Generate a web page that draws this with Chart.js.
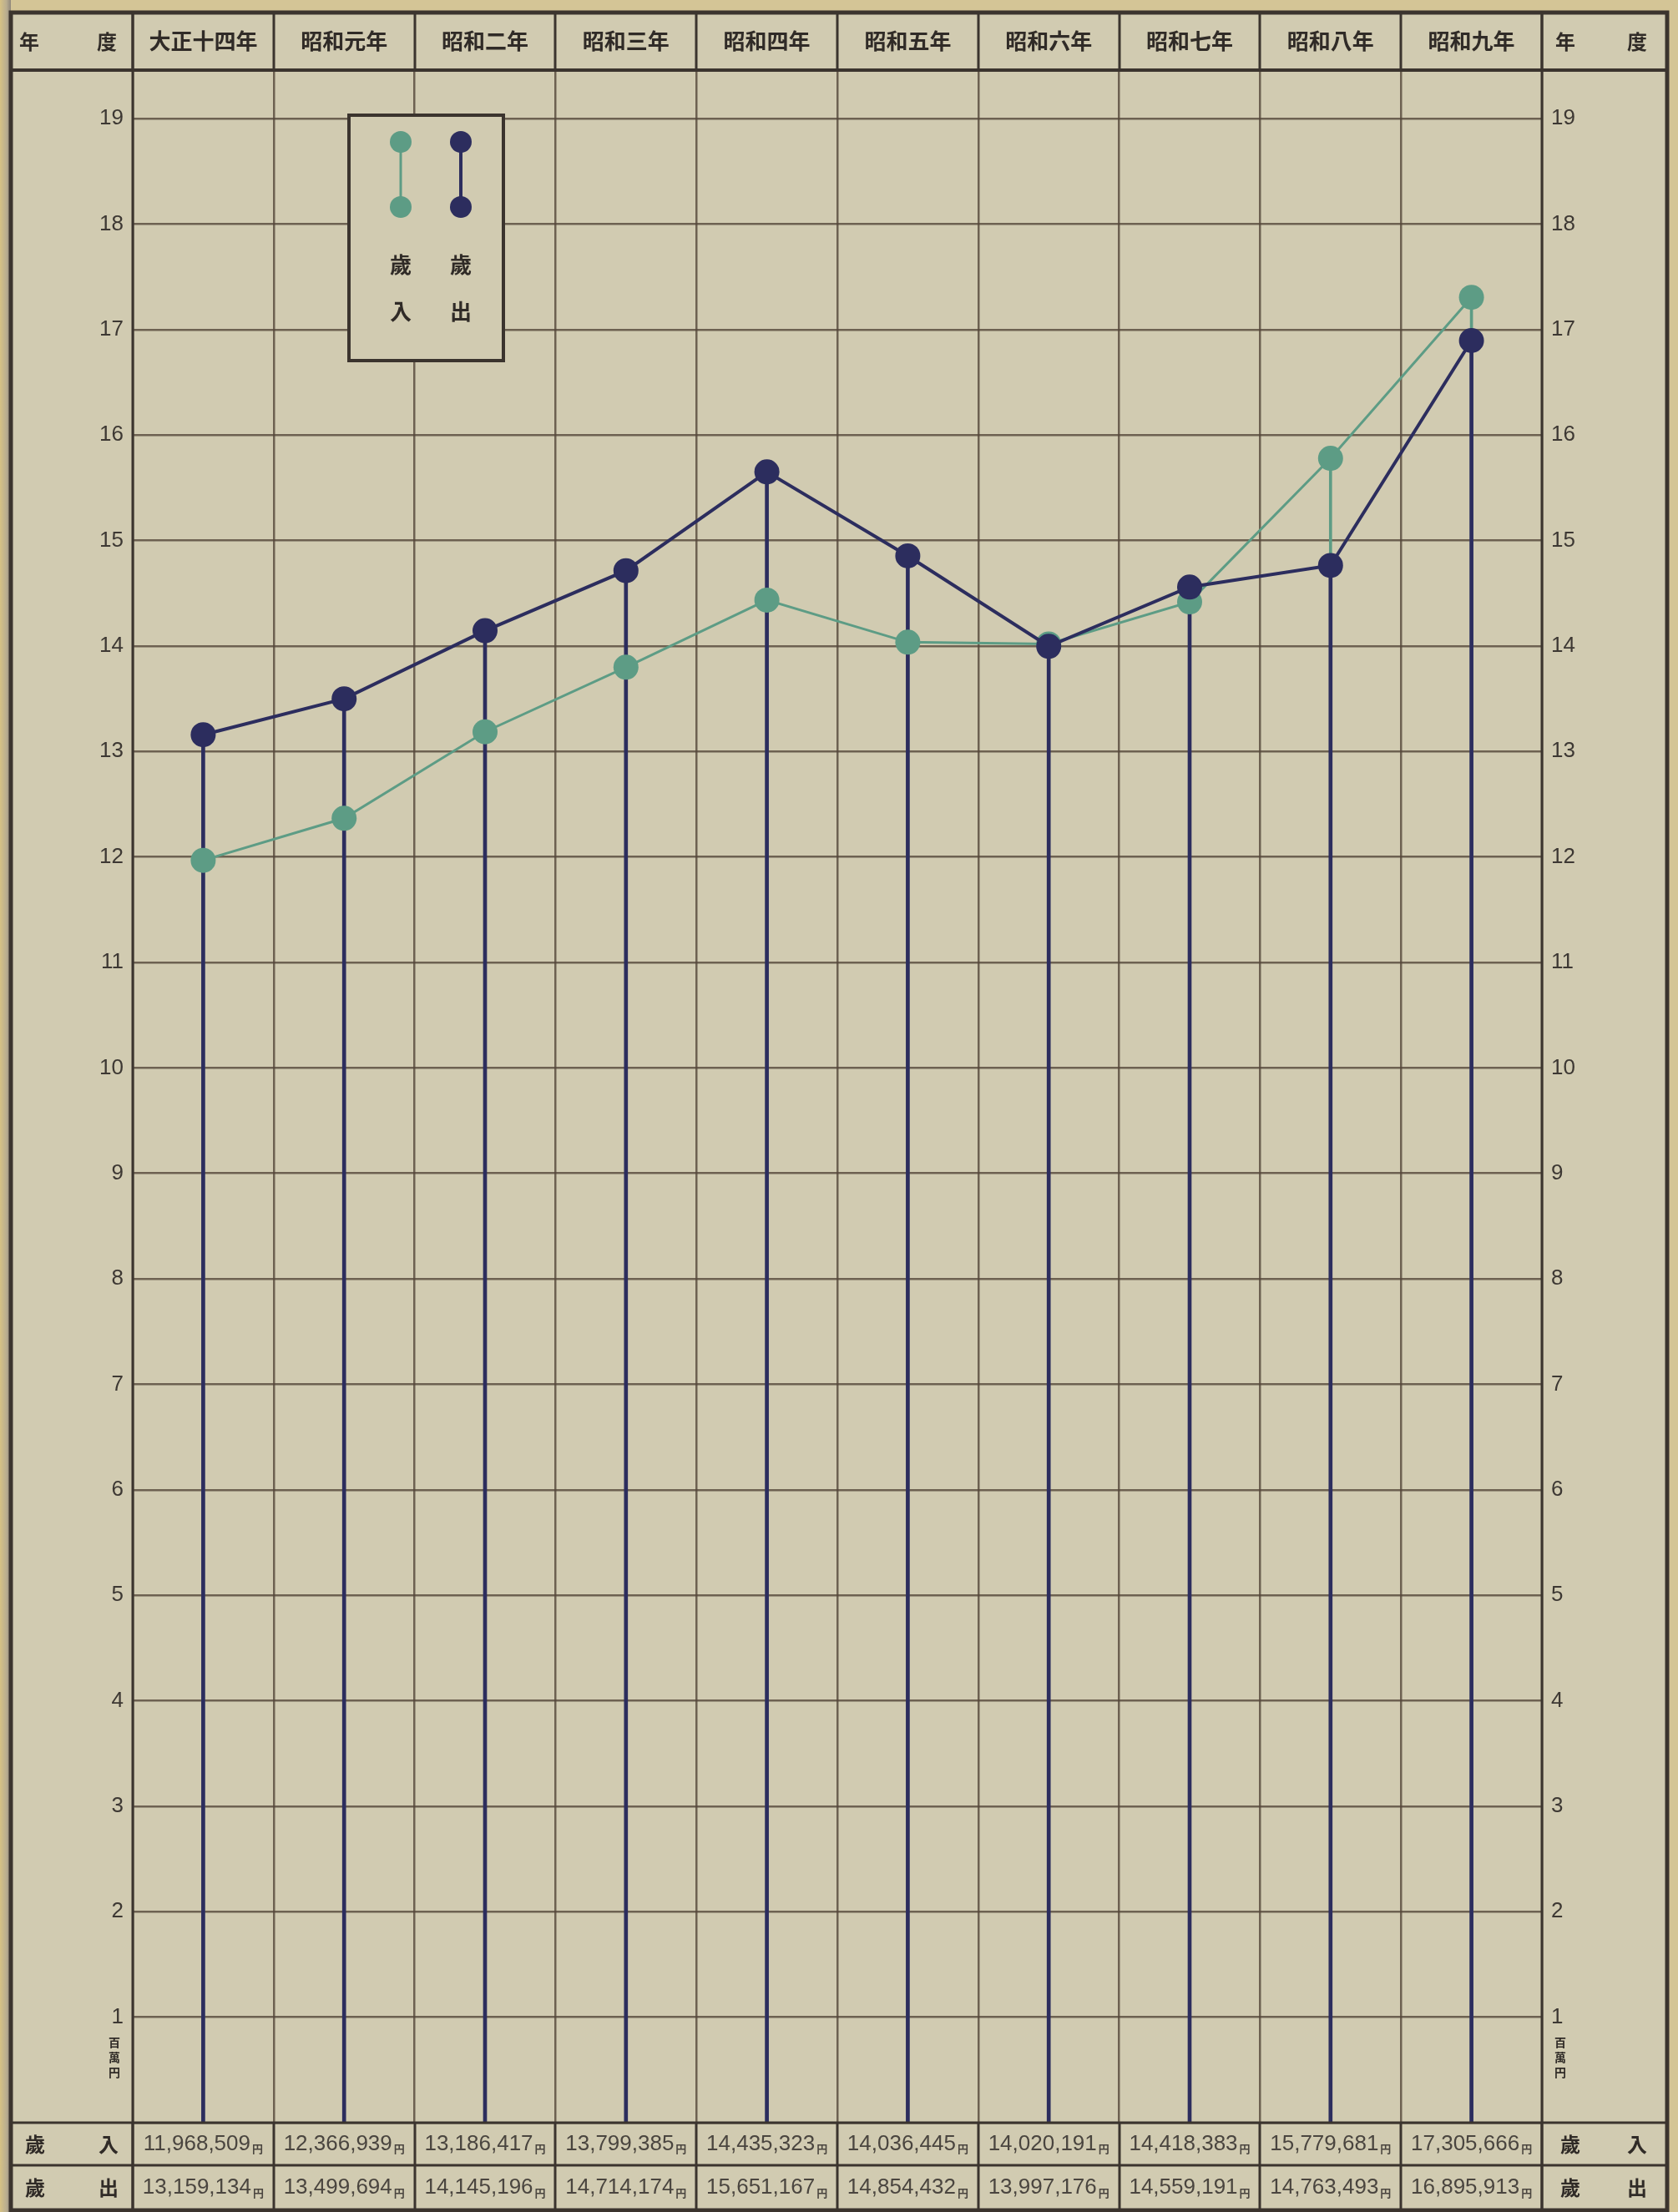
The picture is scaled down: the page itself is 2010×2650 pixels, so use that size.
<!DOCTYPE html>
<html lang="ja">
<head>
<meta charset="utf-8">
<title>歲入歲出</title>
<script src="https://cdn.jsdelivr.net/npm/chart.js@4.4.1/dist/chart.umd.min.js"></script>
<style>
  html, body { margin: 0; padding: 0; background: #d4c596; }
  #wrap { width: 2010px; height: 2650px; }
  canvas { display: block; }
</style>
</head>
<body>
<div id="wrap"><canvas id="chart" width="2010" height="2650"></canvas></div>
<script>
// --- data (yen) ---
const years = ['大正十四年', '昭和元年', '昭和二年', '昭和三年', '昭和四年',
               '昭和五年', '昭和六年', '昭和七年', '昭和八年', '昭和九年'];
const revenueYen = [11968509, 12366939, 13186417, 13799385, 14435323,
                    14036445, 14020191, 14418383, 15779681, 17305666];
const expenditureYen = [13159134, 13499694, 14145196, 14714174, 15651167,
                        14854432, 13997176, 14559191, 14763493, 16895913];
const yTickValues = [1, 2, 3, 4, 5, 6, 7, 8, 9, 10, 11, 12, 13, 14, 15, 16, 17, 18, 19];
const yUnit = ['百', '萬', '円'];
const yearHeader = ['年', '度'];
const rowLabels = [['歲', '入'], ['歲', '出']];
const seriesNames = ['歲入', '歲出'];

const revenue = revenueYen.map(v => v / 1e6);
const expenditure = expenditureYen.map(v => v / 1e6);

// --- look ---
const PAPER = '#d1cbb1';
const INK = '#302b27';
const LINE = '#3b342e';
const GRID = 'rgba(84,70,58,0.8)';
const GREEN = '#5d9c85';
const NAVY = '#2c2d5e';
const CJK = '"Noto Sans CJK JP", "Noto Sans CJK SC", sans-serif';
const NUM = '"Liberation Sans", Arial, sans-serif';

const FRAME = { left: 13, top: 15, right: 1997, bottom: 2648 };
const ROW_H = 51;
const LEGEND = { left: 418, top: 138, width: 185, height: 294 };

function fmtYen(v) {
    return v.toLocaleString('en-US');
}

const paperPlugin = {
    id: 'paper',
    beforeDraw(chart) {
        const { ctx, width, height } = chart;
        ctx.save();
        ctx.fillStyle = '#d4c596';
        ctx.fillRect(0, 0, width, height);
        const g = ctx.createLinearGradient(0, 0, FRAME.left, 0);
        g.addColorStop(0, '#d6c285');
        g.addColorStop(0.6, '#b9ad90');
        g.addColorStop(1, '#8f877a');
        ctx.fillStyle = g;
        ctx.fillRect(0, 0, FRAME.left, height);
        ctx.fillStyle = PAPER;
        ctx.fillRect(FRAME.left, FRAME.top, FRAME.right - FRAME.left, FRAME.bottom - FRAME.top);
        ctx.restore();
    },
    afterDraw(chart) {
        const { ctx, chartArea: area } = chart;
        const x = chart.scales.x, y = chart.scales.y;
        ctx.save();
        ctx.strokeStyle = LINE;
        ctx.lineCap = 'butt';

        // column dividers through header and table
        ctx.lineWidth = 3;
        for (let i = 0; i <= years.length; i++) {
            const px = Math.round(x.getPixelForValue(i - 0.5));
            ctx.beginPath();
            ctx.moveTo(px, FRAME.top); ctx.lineTo(px, area.top);
            ctx.moveTo(px, area.bottom); ctx.lineTo(px, FRAME.bottom);
            ctx.stroke();
        }
        ctx.beginPath();
        ctx.moveTo(area.left, FRAME.top); ctx.lineTo(area.left, FRAME.bottom);
        ctx.moveTo(area.right, FRAME.top); ctx.lineTo(area.right, FRAME.bottom);
        ctx.stroke();

        // header bottom, table rows
        ctx.lineWidth = 4;
        ctx.beginPath();
        ctx.moveTo(FRAME.left, area.top); ctx.lineTo(FRAME.right, area.top);
        ctx.stroke();
        ctx.lineWidth = 3;
        ctx.beginPath();
        ctx.moveTo(FRAME.left, area.bottom); ctx.lineTo(FRAME.right, area.bottom);
        ctx.moveTo(FRAME.left, area.bottom + ROW_H); ctx.lineTo(FRAME.right, area.bottom + ROW_H);
        ctx.stroke();

        // frame
        ctx.lineWidth = 5;
        ctx.strokeRect(FRAME.left, FRAME.top, FRAME.right - FRAME.left, FRAME.bottom - FRAME.top);

        // header corner cells
        ctx.fillStyle = INK;
        ctx.font = `bold 24px ${CJK}`;
        ctx.textAlign = 'center';
        ctx.textBaseline = 'middle';
        const hy = (FRAME.top + area.top) / 2;
        ctx.fillText(yearHeader[0], FRAME.left + 22, hy);
        ctx.fillText(yearHeader[1], area.left - 31, hy);
        ctx.fillText(yearHeader[0], area.right + 28, hy);
        ctx.fillText(yearHeader[1], FRAME.right - 36, hy);

        // table
        const rows = [revenueYen, expenditureYen];
        const rowY = [area.bottom + ROW_H / 2, (area.bottom + ROW_H + FRAME.bottom) / 2];
        rows.forEach((vals, r) => {
            const cy = rowY[r];
            ctx.fillStyle = INK;
            ctx.font = `bold 24px ${CJK}`;
            ctx.textAlign = 'center';
            ctx.fillText(rowLabels[r][0], FRAME.left + 29, cy);
            ctx.fillText(rowLabels[r][1], area.left - 29, cy);
            ctx.fillText(rowLabels[r][0], area.right + 34, cy);
            ctx.fillText(rowLabels[r][1], FRAME.right - 36, cy);

            ctx.fillStyle = '#4a453f';
            vals.forEach((v, i) => {
                const cx = x.getPixelForValue(i);
                const txt = fmtYen(v);
                ctx.font = `26px ${NUM}`;
                const w = ctx.measureText(txt).width;
                ctx.font = `bold 13px ${CJK}`;
                const wy = ctx.measureText('円').width;
                const start = cx - (w + 2 + wy) / 2;
                ctx.textAlign = 'left';
                ctx.font = `26px ${NUM}`;
                ctx.fillText(txt, start, cy);
                ctx.font = `bold 13px ${CJK}`;
                ctx.fillText('円', start + w + 2, cy + 6);
            });
        });

        // unit under the "1" ticks
        const y1 = y.getPixelForValue(yTickValues[0]);
        ctx.fillStyle = INK;
        ctx.font = `bold 14px ${CJK}`;
        ctx.textAlign = 'center';
        yUnit.forEach((c, k) => {
            ctx.fillText(c, area.left - 22, y1 + 30 + k * 18);
            ctx.fillText(c, area.right + 22, y1 + 30 + k * 18);
        });

        // legend box
        const L = LEGEND;
        ctx.fillStyle = PAPER;
        ctx.fillRect(L.left, L.top, L.width, L.height);
        ctx.lineWidth = 4;
        ctx.strokeStyle = LINE;
        ctx.strokeRect(L.left, L.top, L.width, L.height);
        const keys = [
            { cx: L.left + 62, color: GREEN, w: 3, name: seriesNames[0] },
            { cx: L.left + 134, color: NAVY, w: 4, name: seriesNames[1] }
        ];
        keys.forEach(k => {
            const top = L.top + 32, bot = L.top + 110;
            ctx.strokeStyle = k.color;
            ctx.lineWidth = k.w;
            ctx.beginPath();
            ctx.moveTo(k.cx, top); ctx.lineTo(k.cx, bot);
            ctx.stroke();
            ctx.fillStyle = k.color;
            [top, bot].forEach(py => {
                ctx.beginPath();
                ctx.arc(k.cx, py, 13, 0, Math.PI * 2);
                ctx.fill();
            });
            ctx.fillStyle = INK;
            ctx.font = `bold 26px ${CJK}`;
            ctx.textAlign = 'center';
            ctx.fillText(k.name[0], k.cx, L.top + 179);
            ctx.fillText(k.name[1], k.cx, L.top + 235);
        });
        ctx.restore();
    }
};

const yScale = (position) => ({
    type: 'linear',
    position,
    min: 0,
    max: 19.46,
    afterBuildTicks: s => { s.ticks = [0, ...yTickValues].map(v => ({ value: v })); },
    afterFit: s => { s.width = position === 'left' ? 146 : 150; },
    border: { display: false },
    grid: { display: position === 'left', color: GRID, lineWidth: 2.5, drawTicks: false },
    ticks: {
        padding: 11,
        color: '#3d3833',
        font: { family: NUM, size: 26 },
        callback: v => (v === 0 ? '' : String(v))
    }
});

new Chart(document.getElementById('chart'), {
    data: {
        labels: years,
        datasets: [
            { type: 'bar', data: revenue, backgroundColor: GREEN, barThickness: 3, grouped: false, order: 4 },
            { type: 'bar', data: expenditure, backgroundColor: NAVY, barThickness: 4, grouped: false, order: 3 },
            { type: 'line', label: seriesNames[0], data: revenue, borderColor: GREEN, borderWidth: 3,
              pointRadius: 15, pointBackgroundColor: GREEN, pointBorderWidth: 0, tension: 0, order: 2 },
            { type: 'line', label: seriesNames[1], data: expenditure, borderColor: NAVY, borderWidth: 4,
              pointRadius: 15, pointBackgroundColor: NAVY, pointBorderWidth: 0, tension: 0, order: 1 }
        ]
    },
    options: {
        responsive: false,
        animation: false,
        devicePixelRatio: 1,
        layout: { padding: { left: FRAME.left, right: 2010 - FRAME.right, top: FRAME.top, bottom: 107 } },
        plugins: { legend: { display: false }, tooltip: { enabled: false } },
        scales: {
            x: {
                type: 'category',
                position: 'top',
                offset: true,
                afterFit: s => { s.height = 69; },
                border: { display: false },
                grid: { offset: true, color: GRID, lineWidth: 2.5, drawTicks: false },
                ticks: { padding: 19, color: INK, font: { family: CJK, size: 26, weight: 'bold' }, maxRotation: 0 }
            },
            y: yScale('left'),
            y2: yScale('right')
        }
    },
    plugins: [paperPlugin]
});
</script>
</body>
</html>
